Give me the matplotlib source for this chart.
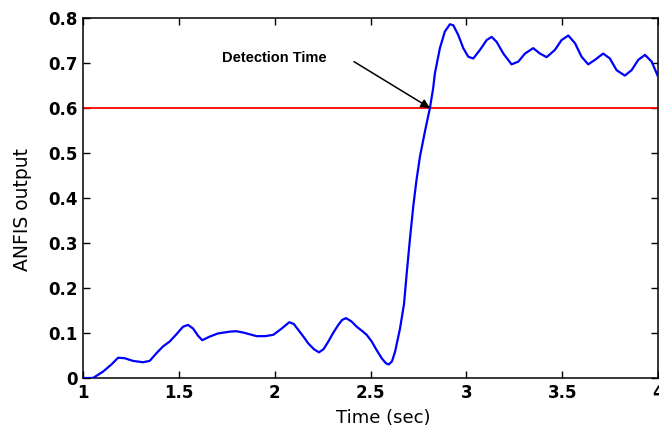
import matplotlib
matplotlib.use("Agg")
import matplotlib.pyplot as plt

# ANFIS output over time (seconds)
time_s = [1.000, 1.052, 1.104, 1.148, 1.183, 1.217, 1.261, 1.313, 1.348, 1.383,
          1.417, 1.452, 1.487, 1.522, 1.548, 1.574, 1.600, 1.622, 1.661, 1.704,
          1.765, 1.800, 1.836, 1.871, 1.906, 1.950, 1.993, 2.037, 2.076, 2.100,
          2.123, 2.150, 2.175, 2.205, 2.231, 2.255, 2.280, 2.305, 2.332, 2.352,
          2.372, 2.400, 2.428, 2.455, 2.480, 2.505, 2.532, 2.560, 2.580, 2.595,
          2.612, 2.628, 2.654, 2.675, 2.689, 2.706, 2.723, 2.740, 2.758, 2.785,
          2.810, 2.827, 2.836, 2.862, 2.888, 2.914, 2.932, 2.958, 2.984, 3.010,
          3.036, 3.071, 3.106, 3.132, 3.158, 3.193, 3.236, 3.271, 3.306, 3.349,
          3.384, 3.419, 3.462, 3.497, 3.532, 3.567, 3.601, 3.636, 3.671, 3.714,
          3.749, 3.784, 3.827, 3.862, 3.897, 3.932, 3.967, 4.000]
anfis_out = [0.000, 0.000, 0.014, 0.030, 0.045, 0.044, 0.038, 0.035, 0.038, 0.055,
             0.070, 0.081, 0.097, 0.114, 0.118, 0.110, 0.094, 0.084, 0.092, 0.099,
             0.103, 0.104, 0.101, 0.097, 0.093, 0.093, 0.096, 0.110, 0.124, 0.120,
             0.107, 0.092, 0.077, 0.064, 0.057, 0.064, 0.081, 0.100, 0.118, 0.129,
             0.133, 0.126, 0.114, 0.105, 0.096, 0.082, 0.062, 0.043, 0.033, 0.030,
             0.037, 0.058, 0.110, 0.165, 0.233, 0.310, 0.381, 0.440, 0.492, 0.550,
             0.600, 0.644, 0.677, 0.733, 0.770, 0.786, 0.784, 0.762, 0.733, 0.714,
             0.710, 0.729, 0.751, 0.758, 0.747, 0.721, 0.697, 0.703, 0.721, 0.733,
             0.721, 0.713, 0.729, 0.751, 0.761, 0.744, 0.714, 0.697, 0.707, 0.721,
             0.710, 0.684, 0.672, 0.684, 0.707, 0.718, 0.703, 0.670]

threshold = 0.6
detection = (2.810, 0.600)

x_ticks = [1, 1.5, 2, 2.5, 3, 3.5, 4]
x_tick_labels = ["1", "1.5", "2", "2.5", "3", "3.5", "4"]
y_ticks = [0, 0.1, 0.2, 0.3, 0.4, 0.5, 0.6, 0.7, 0.8]
y_tick_labels = ["0", "0.1", "0.2", "0.3", "0.4", "0.5", "0.6", "0.7", "0.8"]

plt.rcParams["font.family"] = ["DejaVu Sans"]

fig = plt.figure(figsize=(6.59, 4.28), dpi=100)
ax = fig.add_axes([83 / 659, 1 - 378 / 428, 575 / 659, 360 / 428])

ax.axhline(threshold, color="#ff0000", linewidth=1.3, zorder=2)
ax.plot(time_s, anfis_out, color="#0000ff", linewidth=1.6, zorder=3,
        solid_joinstyle="round", solid_capstyle="round")

ax.text(1.725, 0.711, "Detection Time", fontsize=10.5, fontweight="bold",
        family="Liberation Sans", ha="left", va="center")
ax.annotate("", xy=detection, xytext=(2.414, 0.703),
            arrowprops=dict(arrowstyle="-|>", color="black", lw=1.1,
                            shrinkA=0, shrinkB=0, mutation_scale=13))

ax.set_xlim(1, 4)
ax.set_ylim(0, 0.8)
ax.set_xticks(x_ticks)
ax.set_xticklabels(x_tick_labels, fontsize=12, fontweight="bold")
ax.set_yticks(y_ticks)
ax.set_yticklabels(y_tick_labels, fontsize=12, fontweight="bold")
ax.tick_params(direction="in", length=5, width=1, top=True, right=True, pad=4)

for spine in ax.spines.values():
    spine.set_linewidth(1.1)

ax.set_xlabel("Time (sec)", fontsize=13)
ax.xaxis.set_label_coords(0.522, -0.085)
ax.set_ylabel("ANFIS output", fontsize=13.5)
ax.yaxis.set_label_coords(-0.088, 0.469)

fig.savefig("out.png", dpi=100)
